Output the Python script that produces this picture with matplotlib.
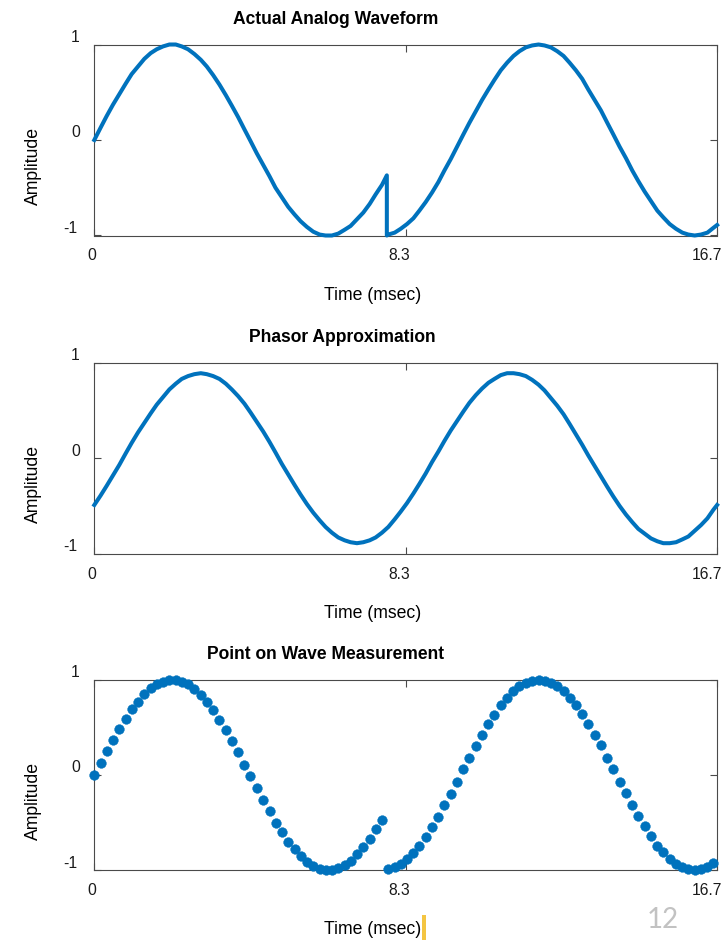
import matplotlib
matplotlib.use("Agg")
import matplotlib.pyplot as plt
from matplotlib.patches import Rectangle

# ---------------- data ----------------
sample_time_ms = [
    0.00, 0.17, 0.33, 0.50, 0.67, 0.84, 1.00, 1.17, 1.34, 1.51,
    1.67, 1.84, 2.01, 2.18, 2.34, 2.51, 2.68, 2.85, 3.01, 3.18,
    3.35, 3.52, 3.68, 3.85, 4.02, 4.18, 4.35, 4.52, 4.69, 4.85,
    5.02, 5.19, 5.36, 5.52, 5.69, 5.86, 6.03, 6.19, 6.36, 6.53,
    6.70, 6.86, 7.03, 7.20, 7.37, 7.53, 7.70, 7.87, 8.04, 8.20,
    8.37, 8.54, 8.70, 8.87, 9.04, 9.21, 9.37, 9.54, 9.71, 9.88,
    10.04, 10.21, 10.38, 10.55, 10.71, 10.88, 11.05, 11.22, 11.38, 11.55,
    11.72, 11.89, 12.05, 12.22, 12.39, 12.56, 12.72, 12.89, 13.06, 13.22,
    13.39, 13.56, 13.73, 13.89, 14.06, 14.23, 14.40, 14.56, 14.73, 14.90,
    15.07, 15.23, 15.40, 15.57, 15.74, 15.90, 16.07, 16.24, 16.41, 16.57,
]

# point-on-wave samples of the actual waveform
sampled_amplitude = [
    0.00, 0.13, 0.25, 0.37, 0.48, 0.59, 0.69, 0.77, 0.85, 0.91,
    0.95, 0.98, 1.00, 1.00, 0.98, 0.95, 0.90, 0.84, 0.77, 0.68,
    0.58, 0.47, 0.36, 0.24, 0.11, -0.01, -0.14, -0.26, -0.38, -0.50,
    -0.60, -0.70, -0.78, -0.85, -0.91, -0.96, -0.99, -1.00, -1.00, -0.98,
    -0.94, -0.90, -0.83, -0.76, -0.67, -0.57, -0.47, -0.99, -0.97, -0.93,
    -0.88, -0.82, -0.74, -0.65, -0.55, -0.44, -0.32, -0.20, -0.07, 0.06,
    0.18, 0.30, 0.42, 0.53, 0.63, 0.73, 0.81, 0.88, 0.93, 0.97,
    0.99, 1.00, 0.99, 0.97, 0.93, 0.88, 0.81, 0.73, 0.64, 0.53,
    0.42, 0.31, 0.18, 0.06, -0.07, -0.19, -0.32, -0.43, -0.54, -0.64,
    -0.74, -0.81, -0.88, -0.93, -0.97, -0.99, -1.00, -0.99, -0.97, -0.92,
]

# phase jump in the actual waveform
jump_index = 47              # first sample after the jump
jump_time_ms = 7.83
jump_values = [-0.37, -1.00]  # value just before / just after the jump

# end of the window
end_time_ms = 16.67
analog_end_value = -0.89

# phasor approximation at the sample times
phasor_amplitude = [
    -0.49, -0.39, -0.29, -0.18, -0.07, 0.05, 0.16, 0.27, 0.37, 0.47,
    0.56, 0.64, 0.72, 0.78, 0.83, 0.86, 0.88, 0.89, 0.88, 0.86,
    0.83, 0.78, 0.72, 0.65, 0.57, 0.48, 0.38, 0.28, 0.17, 0.06,
    -0.06, -0.17, -0.28, -0.38, -0.48, -0.57, -0.65, -0.72, -0.78, -0.83,
    -0.86, -0.88, -0.89, -0.88, -0.86, -0.83, -0.78, -0.72, -0.64, -0.56,
    -0.47, -0.37, -0.27, -0.16, -0.04, 0.07, 0.18, 0.29, 0.39, 0.49,
    0.58, 0.66, 0.73, 0.79, 0.83, 0.87, 0.89, 0.89, 0.88, 0.86,
    0.82, 0.77, 0.71, 0.63, 0.55, 0.46, 0.36, 0.25, 0.14, 0.03,
    -0.08, -0.19, -0.30, -0.40, -0.50, -0.59, -0.67, -0.74, -0.79, -0.84,
    -0.87, -0.89, -0.89, -0.88, -0.85, -0.82, -0.76, -0.70, -0.63, -0.54,
]
phasor_end_value = -0.49

xtick_values = [0, 8.333, 16.667]
xtick_labels = ["0", "8.3", "16.7"]
ytick_values = [-1, 0, 1]
ytick_labels = ["-1", "0", "1"]

titles = ["Actual Analog Waveform", "Phasor Approximation", "Point on Wave Measurement"]
x_label = "Time (msec)"
y_label = "Amplitude"
page_number = "12"

# ---------------- styling / layout ----------------
W, H = 725, 940
BLUE = "#0072BD"
AX_COL = "#4a4a4a"
FONT = ["Liberation Sans", "DejaVu Sans"]
plt.rcParams["font.family"] = FONT

fig = plt.figure(figsize=(W / 100, H / 100), dpi=100)

AX_LEFT, AX_RIGHT = 94.3, 717.0
panels = [(44.5, 235.5), (362.7, 553.7), (679.7, 870.3)]
title_xfrac = [0.388, 0.399, 0.371]

axes = []
for (top, bottom), title, tx in zip(panels, titles, title_xfrac):
    ax = fig.add_axes([AX_LEFT / W, 1 - bottom / H, (AX_RIGHT - AX_LEFT) / W, (bottom - top) / H])
    ax.set_xlim(0, 16.667)
    ax.set_ylim(-1, 1)
    for s in ax.spines.values():
        s.set_color(AX_COL)
        s.set_linewidth(0.8)
    ax.set_xticks(xtick_values)
    ax.set_yticks(ytick_values)
    ax.set_xticklabels([])
    ax.set_yticklabels([])
    ax.tick_params(direction="in", length=4.7, width=0.8, color=AX_COL,
                   top=True, right=True)
    # tick labels (slightly offset as in the reference)
    for v, lab in zip(xtick_values, xtick_labels):
        ax.annotate(lab, xy=(v, 0), xycoords=("data", "axes fraction"),
                    xytext=(-2.6 - 0.46 * v, -25), textcoords="offset pixels",
                    ha="center", va="baseline", fontsize=11.3, color="#1a1a1a")
    for v, lab in zip(ytick_values, ytick_labels):
        dx = -16.5 if lab.startswith("-") else -14.5
        ax.annotate(lab, xy=(0, v), xycoords=("axes fraction", "data"),
                    xytext=(dx, 2.6), textcoords="offset pixels",
                    ha="right", va="baseline", fontsize=11.3, color="#1a1a1a")
    ax.set_title(title, x=tx, pad=15.1, fontsize=12.65, fontweight="bold")
    ax.set_xlabel(x_label, fontsize=12.7, va="baseline")
    ax.xaxis.set_label_coords(0.4476, -64 / (bottom - top))
    ax.set_ylabel(y_label, fontsize=12.7, va="center")
    ax.yaxis.set_label_coords((33.3 - AX_LEFT) / (AX_RIGHT - AX_LEFT), 0.5 - 25.8 / (bottom - top))
    axes.append(ax)

# panel 1: actual analog waveform (continuous line with phase jump)
analog_time = sample_time_ms[:jump_index] + [jump_time_ms, jump_time_ms] + sample_time_ms[jump_index:] + [end_time_ms]
analog_value = sampled_amplitude[:jump_index] + jump_values + sampled_amplitude[jump_index:] + [analog_end_value]
axes[0].plot(analog_time, analog_value, color=BLUE, lw=2.9, clip_on=False,
             solid_joinstyle="round", zorder=3)

# panel 2: phasor approximation
axes[1].plot(sample_time_ms + [end_time_ms], phasor_amplitude + [phasor_end_value],
             color=BLUE, lw=2.9, clip_on=False, solid_joinstyle="round", zorder=3)

# panel 3: point on wave samples
axes[2].plot(sample_time_ms, sampled_amplitude, linestyle="none", marker="o",
             markersize=7.0, markerfacecolor=BLUE, markeredgecolor=BLUE,
             markeredgewidth=0.3, clip_on=False, zorder=3)

# slide decorations: page number and yellow cursor mark
fig.text(663 / W, 1 - 928.3 / H, page_number, ha="center", va="baseline",
         fontsize=20, color="#c2c2c2", family=["Lato", "DejaVu Sans"])
fig.patches.append(Rectangle((422 / W, 0), 4 / W, 25 / H, transform=fig.transFigure,
                             facecolor="#F4C542", edgecolor="none", zorder=5))

fig.savefig("out.png", dpi=100)
